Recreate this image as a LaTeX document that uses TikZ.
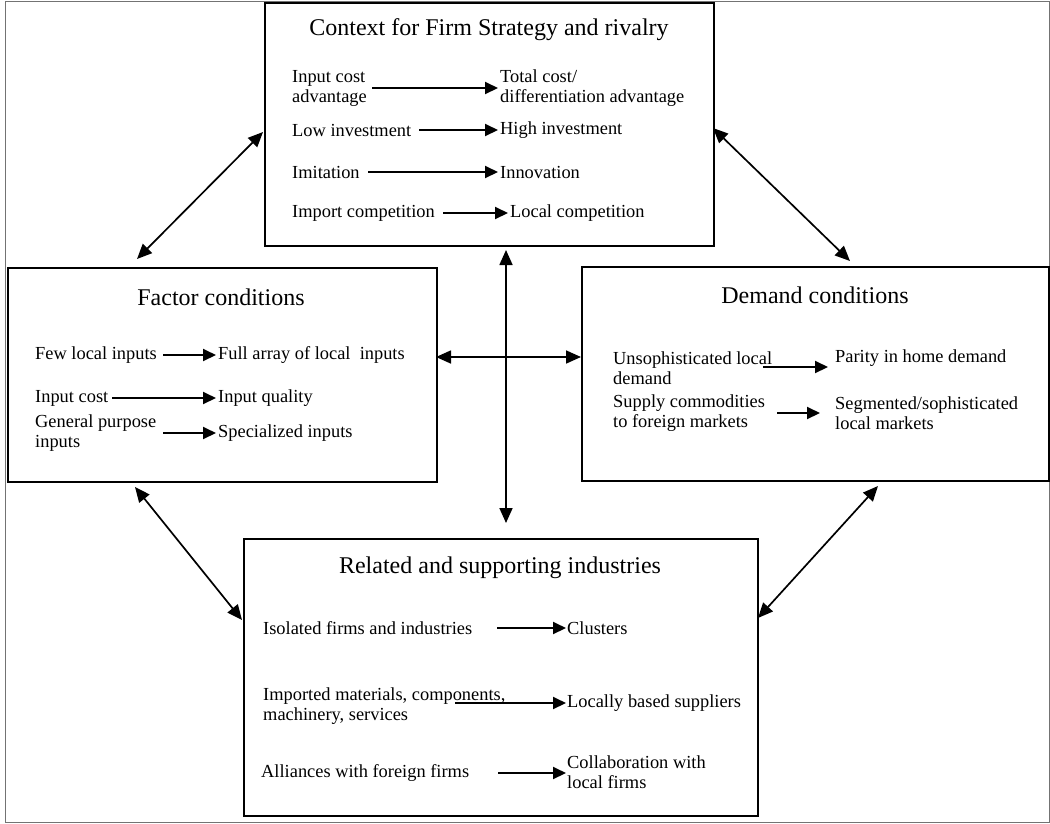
\documentclass[tikz,border=0pt]{standalone}
\usepackage{fontspec}
\setmainfont{Liberation Serif}
\usetikzlibrary{arrows.meta,calc}
\begin{document}
\begin{tikzpicture}[x=1pt,y=-1pt,
  box/.style={draw, line width=1.9pt, anchor=north west, inner sep=0pt},
  ttl/.style={inner sep=0pt, font=\fontsize{24}{26}\selectfont},
  txt/.style={anchor=west, inner sep=0pt, align=left, font=\fontsize{18.4}{20}\selectfont},
  inarr/.style={line width=2pt, -{Triangle[length=13pt,width=12pt]}},
  link/.style={line width=1.7pt, {Triangle[length=15pt,width=13pt]}-{Triangle[length=15pt,width=13pt]}}]
\useasboundingbox (0,0) rectangle (1050,823);
\node[draw=black!55, line width=1.2pt, anchor=north west, minimum width=1044pt, minimum height=821pt, inner sep=0pt] (frame) at (5,1) {};
% boxes
\node[box, minimum width=449pt, minimum height=243pt] (ctx) at (264,2) {};
\node[box, minimum width=429pt, minimum height=214pt] (fac) at (7,267) {};
\node[box, minimum width=467pt, minimum height=214pt] (dem) at (581,266) {};
\node[box, minimum width=514pt, minimum height=277pt] (rel) at (243,538) {};
% connectors
\coordinate (c1a) at (263,132); \coordinate (c1b) at (137,259);
\coordinate (c2a) at (713,128); \coordinate (c2b) at (850,261);
\coordinate (c3a) at (135,487); \coordinate (c3b) at (242,620);
\coordinate (c4a) at (878,486); \coordinate (c4b) at (758,618);
\coordinate (c5a) at (506,250); \coordinate (c5b) at (506,523);
\coordinate (c6a) at (436,357); \coordinate (c6b) at (581,357);
\draw[link] (c1a) -- (c1b);
\draw[link] (c2a) -- (c2b);
\draw[link] (c3a) -- (c3b);
\draw[link] (c4a) -- (c4b);
\draw[link] (c5a) -- (c5b);
\draw[link] (c6a) -- (c6b);
% context box
\node[ttl] (ctxt) at (489,30) {Context for Firm Strategy and rivalry};
\node[txt] (a1) at (292,88) {Input cost\\advantage};
\node[txt] (b1) at (500,88) {Total cost/\\differentiation advantage};
\node[txt] (a2) at (292,130) {Low investment};
\node[txt] (b2) at (500,130) {High investment};
\node[txt] (a3) at (292,172) {Imitation};
\node[txt] (b3) at (500,172) {Innovation};
\node[txt] (a4) at (292,213) {Import competition};
\node[txt] (b4) at (510,213) {Local competition};
\coordinate (p1a) at (372,88);  \coordinate (p1b) at (498,88);
\coordinate (p2a) at (419,130); \coordinate (p2b) at (498,130);
\coordinate (p3a) at (368,172); \coordinate (p3b) at (498,172);
\coordinate (p4a) at (443,213); \coordinate (p4b) at (508,213);
\draw[inarr] (p1a) -- (p1b);
\draw[inarr] (p2a) -- (p2b);
\draw[inarr] (p3a) -- (p3b);
\draw[inarr] (p4a) -- (p4b);
% factor box
\node[ttl] (fact) at (221,297) {Factor conditions};
\node[txt] (f1) at (35,355) {Few local inputs};
\node[txt] (g1) at (218,355) {Full array of local\ \ inputs};
\node[txt] (f2) at (35,398) {Input cost};
\node[txt] (g2) at (218,398) {Input quality};
\node[txt] (f3) at (35,433) {General purpose\\inputs};
\node[txt] (g3) at (218,433) {Specialized inputs};
\coordinate (q1a) at (163,355); \coordinate (q1b) at (216,355);
\coordinate (q2a) at (112,398); \coordinate (q2b) at (216,398);
\coordinate (q3a) at (163,433); \coordinate (q3b) at (216,433);
\draw[inarr] (q1a) -- (q1b);
\draw[inarr] (q2a) -- (q2b);
\draw[inarr] (q3a) -- (q3b);
% demand box
\node[ttl] (demt) at (815,295) {Demand conditions};
\node[txt] (d1) at (613,368) {Unsophisticated local\\demand};
\node[txt] (e1) at (835,358) {Parity in home demand};
\node[txt] (d2) at (613,413) {Supply commodities\\to foreign markets};
\node[txt] (e2) at (835,413) {Segmented/sophisticated\\local markets};
\coordinate (s1a) at (763,367); \coordinate (s1b) at (828,367);
\coordinate (s2a) at (777,413); \coordinate (s2b) at (820,413);
\draw[inarr] (s1a) -- (s1b);
\draw[inarr] (s2a) -- (s2b);
% related box
\node[ttl] (relt) at (500,568) {Related and supporting industries};
\node[txt] (r1) at (263,628) {Isolated firms and industries};
\node[txt] (t1) at (567,628) {Clusters};
\node[txt] (r2) at (263,706) {Imported materials, components,\\machinery, services};
\node[txt] (t2) at (567,703) {Locally based suppliers};
\node[txt] (r3) at (261,773) {Alliances with foreign firms};
\node[txt] (t3) at (567,772) {Collaboration with\\local firms};
\coordinate (u1a) at (497,628); \coordinate (u1b) at (566,628);
\coordinate (u2a) at (455,703); \coordinate (u2b) at (566,703);
\coordinate (u3a) at (498,773); \coordinate (u3b) at (566,773);
\draw[inarr] (u1a) -- (u1b);
\draw[inarr] (u2a) -- (u2b);
\draw[inarr] (u3a) -- (u3b);
\end{tikzpicture}
\end{document}
